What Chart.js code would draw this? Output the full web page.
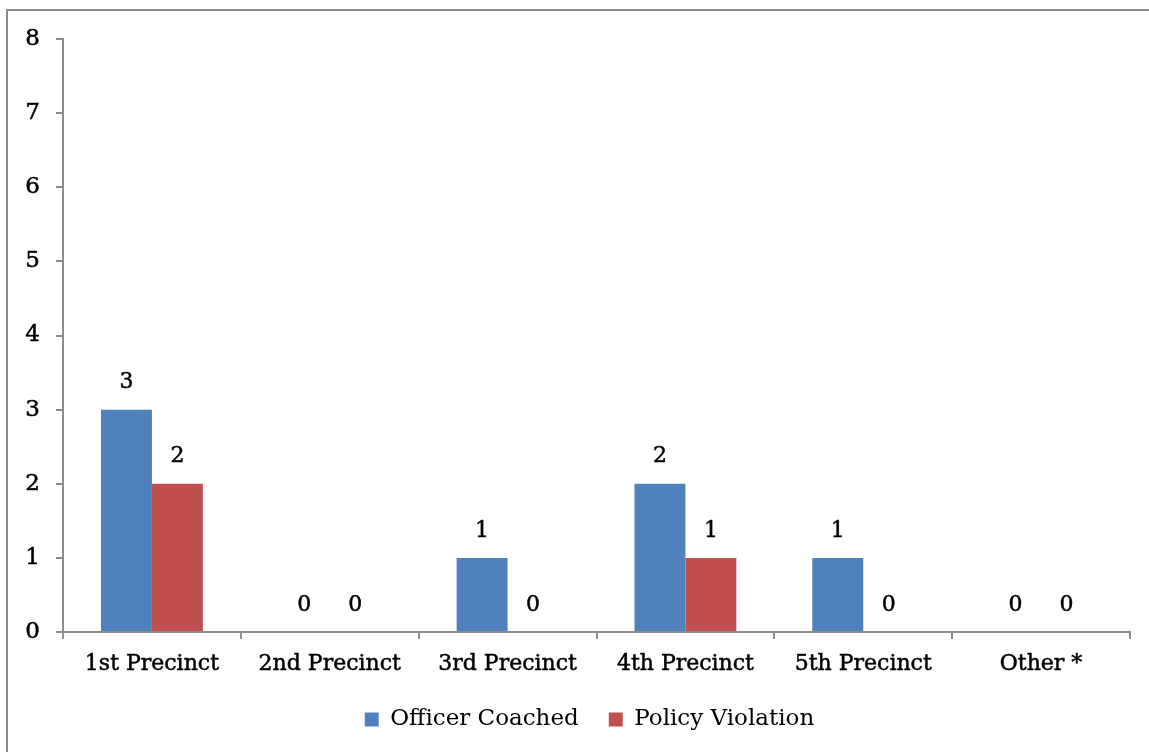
<!DOCTYPE html>
<html>
<head>
<meta charset="utf-8">
<script src="https://cdn.jsdelivr.net/npm/chart.js@4/dist/chart.umd.min.js"></script>
<style>
  html, body { margin: 0; padding: 0; background: #ffffff; }
  #wrap { position: relative; width: 1149px; height: 752px; }
</style>
</head>
<body>
<div id="wrap"><canvas id="chart" width="1149" height="752"></canvas></div>
<script>
// Complaint outcomes by precinct
const categories = ['1st Precinct', '2nd Precinct', '3rd Precinct', '4th Precinct', '5th Precinct', 'Other *'];
const officerCoached = [3, 0, 1, 2, 1, 0];
const policyViolation = [2, 0, 0, 1, 0, 0];
const yTicks = [0, 1, 2, 3, 4, 5, 6, 7, 8];

const FONT = "'DejaVu Serif', serif";
const AXIS_GREY = '#8c8c8c';

// Outer frame around the chart
const framePlugin = {
  id: 'frame',
  beforeDraw(chart) {
    const ctx = chart.ctx;
    ctx.save();
    ctx.strokeStyle = AXIS_GREY;
    ctx.lineWidth = 2;
    ctx.strokeRect(7, 10, 2000, 2000);
    ctx.restore();
  }
};

// Nudge the legend so it sits under the middle of the plot
const legendShift = {
  id: 'legendShift',
  afterLayout(chart) {
    const lg = chart.legend;
    if (lg) { lg.left += 24.5; lg.right += 24.5; }
  }
};

// Value labels above every bar
const valueLabels = {
  id: 'valueLabels',
  afterDatasetsDraw(chart) {
    const ctx = chart.ctx;
    ctx.save();
    ctx.font = '22px ' + FONT;
    ctx.fillStyle = '#000';
    ctx.strokeStyle = '#000';
    ctx.lineWidth = 0.5;
    ctx.textAlign = 'center';
    ctx.textBaseline = 'middle';
    chart.data.datasets.forEach((ds, i) => {
      chart.getDatasetMeta(i).data.forEach((bar, j) => {
        const t = String(ds.data[j]);
        ctx.strokeText(t, bar.x, bar.y - 27);
        ctx.fillText(t, bar.x, bar.y - 27);
      });
    });
    ctx.restore();
  }
};

new Chart(document.getElementById('chart'), {
  type: 'bar',
  data: {
    labels: categories,
    datasets: [
      { label: 'Officer Coached', data: officerCoached, backgroundColor: '#4F81BD' },
      { label: 'Policy Violation', data: policyViolation, backgroundColor: '#C0504D' }
    ]
  },
  options: {
    responsive: false,
    animation: false,
    devicePixelRatio: 1,
    layout: { padding: { left: 0, top: 39, right: 19, bottom: 11 } },
    datasets: { bar: { categoryPercentage: 0.573, barPercentage: 1.0 } },
    plugins: {
      legend: {
        position: 'bottom',
        labels: {
          font: { family: FONT, size: 23 },
          color: '#000',
          boxWidth: 14,
          boxHeight: 14,
          padding: 30
        }
      },
      tooltip: { enabled: false }
    },
    scales: {
      x: {
        afterFit(s) { s.height = 46; },
        grid: { offset: true, drawOnChartArea: false, color: AXIS_GREY, tickLength: 7, lineWidth: 2 },
        border: { color: AXIS_GREY, width: 2 },
        ticks: {
          font: { family: FONT, size: 22 }, color: '#000', padding: 12, maxRotation: 0,
          textStrokeColor: '#000', textStrokeWidth: 0.5
        }
      },
      y: {
        min: 0,
        max: 8,
        afterFit(s) { s.width = 63; },
        afterBuildTicks(s) { s.ticks = yTicks.map(v => ({ value: v })); },
        grid: { drawOnChartArea: false, color: AXIS_GREY, tickLength: 7, lineWidth: 2 },
        border: { color: AXIS_GREY, width: 2 },
        ticks: {
          font: { family: FONT, size: 23 }, color: '#000', padding: 16,
          textStrokeColor: '#000', textStrokeWidth: 0.5
        }
      }
    }
  },
  plugins: [framePlugin, legendShift, valueLabels]
});
</script>
</body>
</html>
